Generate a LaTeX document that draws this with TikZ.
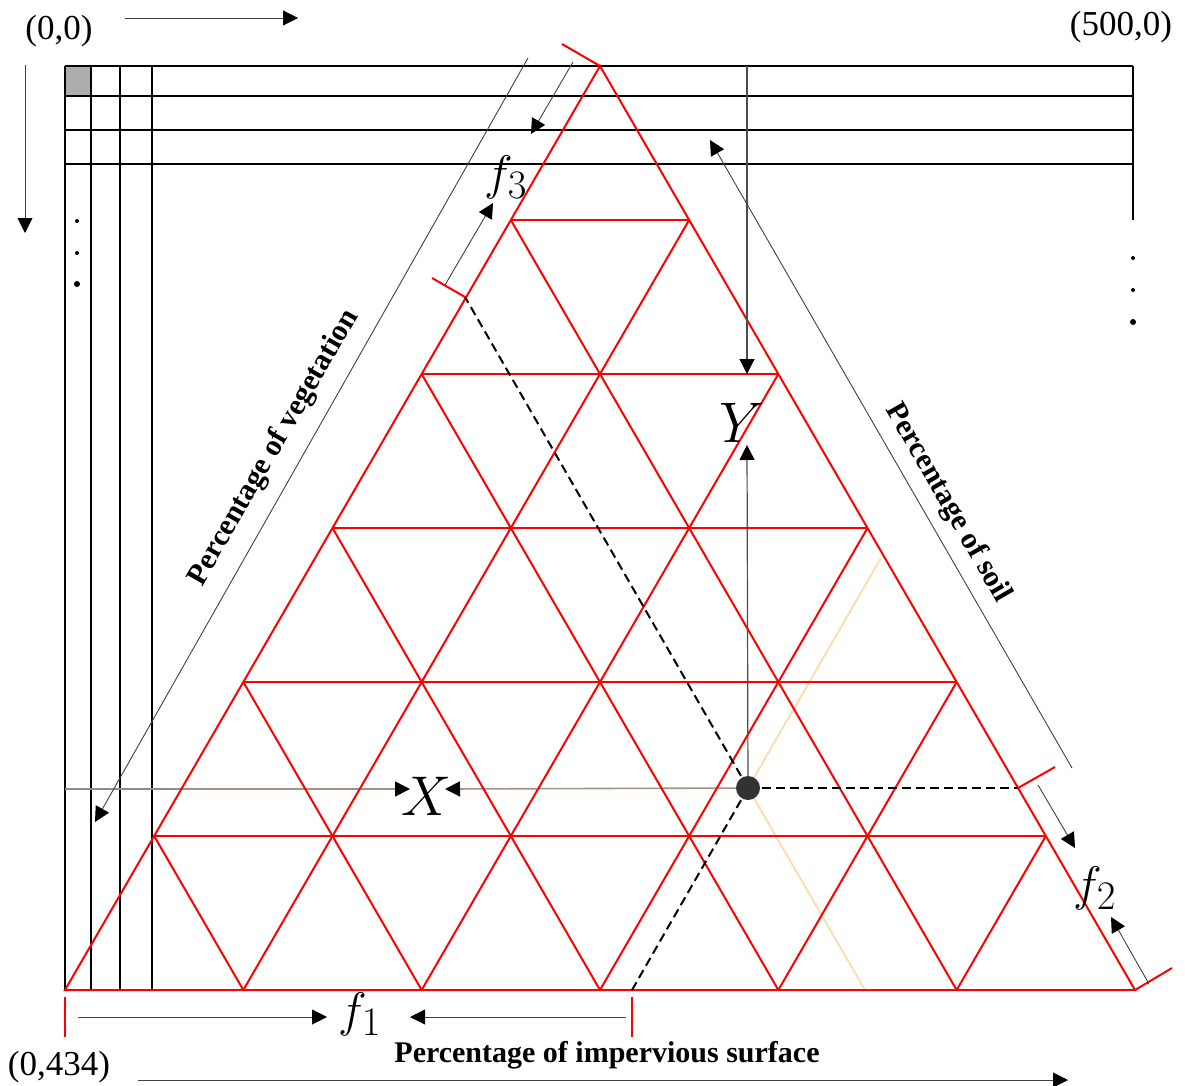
\documentclass[tikz,border=0pt]{standalone}
\usepackage{graphicx}
\usepackage{fontspec}
\setmainfont{Liberation Serif}
\usetikzlibrary{arrows.meta,calc}
\definecolor{beigeC}{RGB}{250,222,175}
\definecolor{tanC}{RGB}{165,148,125}
\definecolor{dotC}{RGB}{50,50,50}
\newcommand{\bigmath}[2]{\scalebox{#1}{\Huge$#2$}}
\begin{document}
\begin{tikzpicture}[x=1pt,y=-1pt,
  gridline/.style={line width=2.3pt,black},
  redline/.style={line width=2pt,red},
  thinline/.style={line width=0.9pt,black!75},
  tipped/.style={-{Triangle[length=15pt,width=15pt,color=black]}},
  dashline/.style={line width=2pt,black,dash pattern=on 9pt off 5pt},
  beigeline/.style={line width=2pt,beigeC},
  tanline/.style={line width=1.6pt,tanC},
  tickline/.style={line width=2pt,red},
  coordlab/.style={font=\fontsize{35}{38}\selectfont,inner sep=0pt},
  boldlab/.style={font=\bfseries\fontsize{30}{32}\selectfont,inner sep=0pt},
  flab/.style={inner sep=0pt},
]
\useasboundingbox (0,0) rectangle (1185,1086);

% gray cell and black raster grid
\fill[black!32] (65,66) rectangle (91,96);
\foreach \x in {65,91,120,152} \draw[gridline] (\x,66) -- (\x,990);
\foreach \y in {66,96,130,164} \draw[gridline] (65,\y) -- (1133,\y);
\draw[gridline] (1133,66) -- (1133,220);
\fill (77,221) circle (2.0);
\fill (77,253) circle (2.0);
\fill (77,284) circle (3.0);
\fill (1133,258) circle (2.0);
\fill (1133,290) circle (2.0);
\fill (1133,322) circle (3.0);

% axes arrows and corner labels
\coordinate (ta1) at (125,18); \coordinate (ta2) at (298,18);
\draw[thinline,tipped] (ta1) -- (ta2);
\coordinate (la1) at (25,65); \coordinate (la2) at (25,233);
\draw[thinline,tipped] (la1) -- (la2);
\coordinate (ba1) at (138,1080); \coordinate (ba2) at (1068,1080);
\draw[thinline,tipped] (ba1) -- (ba2);
\node[coordlab] (o00) at (59,31) {(0,0)};
\node[coordlab] (o500) at (1121,27) {(500,0)};
\node[coordlab] (o434) at (59,1067) {(0,434)};

% triangle corners and point
\coordinate (A) at (65,990);
\coordinate (B) at (1135,990);
\coordinate (C) at (600,66);
\coordinate (Pc) at (748,788);
\coordinate (L) at (465,297);
\coordinate (R) at (1018,788);
\coordinate (Q) at (632,990);

% beige guide lines
\coordinate (be1) at (881,558);
\coordinate (be2) at (865,990);
\draw[beigeline] (Pc) -- (be1);
\draw[beigeline] (Pc) -- (be2);

% horizontal X line
\coordinate (xh0) at (65,789);
\coordinate (xh1) at (181,789);
\coordinate (xtipL) at (410,789);
\coordinate (xtipR) at (445,789);
\draw[line width=1.2pt,black!45] (xh0) -- (xh1);
\draw[tanline,tipped] (xh1) -- (xtipL);
\draw[tanline,tipped] (Pc) -- (xtipR);

% red ternary grid
\draw[redline] (A) -- (B) -- (C) -- cycle;
\foreach \i in {1,...,5} {
  \draw[redline] ($(A)!\i/6!(C)$) -- ($(B)!\i/6!(C)$);
  \draw[redline] ($(A)!\i/6!(B)$) -- ($(C)!\i/6!(B)$);
  \draw[redline] ($(A)!\i/6!(B)$) -- ($(A)!\i/6!(C)$);
}

% dashed projections
\draw[dashline] (Pc) -- (L);
\draw[dashline] (Pc) -- (R);
\draw[dashline] (Pc) -- (Q);

% vertical Y line
\coordinate (yt0) at (747,66);
\coordinate (ytipT) at (747,374);
\coordinate (ytipB) at (747,445);
\draw[line width=1.2pt,black!70,tipped] (yt0) -- (ytipT);
\draw[line width=1.2pt,black!70,tipped] (Pc) -- (ytipB);

% red ticks
\coordinate (tC) at (562,44);
\coordinate (tL) at (432,278);
\coordinate (tR) at (1055,767);
\coordinate (tB) at (1172,968);
\coordinate (tA1) at (65,997); \coordinate (tA2) at (65,1037);
\coordinate (tQ1) at (632,997); \coordinate (tQ2) at (632,1037);
\draw[tickline] (C) -- (tC);
\draw[tickline] (L) -- (tL);
\draw[tickline] (R) -- (tR);
\draw[tickline] (B) -- (tB);
\draw[tickline] (tA1) -- (tA2);
\draw[tickline] (tQ1) -- (tQ2);

% long side arrows
\coordinate (v1) at (528,58); \coordinate (v2) at (95,822);
\draw[thinline,tipped] (v1) -- (v2);
\coordinate (s1) at (1072,768); \coordinate (s2) at (710,140);
\draw[thinline,tipped] (s1) -- (s2);

% f3 arrows
\coordinate (f3a1) at (573,62); \coordinate (f3a2) at (531,134);
\draw[thinline,tipped] (f3a1) -- (f3a2);
\coordinate (f3b1) at (445,285); \coordinate (f3b2) at (493,203);
\draw[thinline,tipped] (f3b1) -- (f3b2);
% f2 arrows
\coordinate (f2a1) at (1038,785); \coordinate (f2a2) at (1075,848);
\draw[thinline,tipped] (f2a1) -- (f2a2);
\coordinate (f2b1) at (1149,984); \coordinate (f2b2) at (1111,917);
\draw[thinline,tipped] (f2b1) -- (f2b2);
% f1 arrows
\coordinate (f1a1) at (78,1017); \coordinate (f1a2) at (327,1017);
\draw[thinline,tipped] (f1a1) -- (f1a2);
\coordinate (f1b1) at (626,1017); \coordinate (f1b2) at (410,1017);
\draw[thinline,tipped] (f1b1) -- (f1b2);

% the point
\node[circle,fill=dotC,minimum size=24pt,inner sep=0pt] (P) at (Pc) {};

% labels
\node[flab] (lf3) at (506,177) {\bigmath{1.95}{f_3}};
\node[flab] (lf2) at (1095,888) {\bigmath{1.95}{f_2}};
\node[flab] (lf1) at (360,1014) {\bigmath{1.95}{f_1}};
\node[flab] (lX) at (426,796) {\bigmath{2.25}{X}};
\node[flab] (lY) at (742,423) {\bigmath{2.3}{Y}};
\node[boldlab,rotate=60] (lveg) at (274,448) {Percentage of vegetation};
\node[boldlab,rotate=-60] (lsoil) at (948,503) {Percentage of soil};
\node[boldlab] (limp) at (607,1055) {Percentage of impervious surface};
\end{tikzpicture}
\end{document}
